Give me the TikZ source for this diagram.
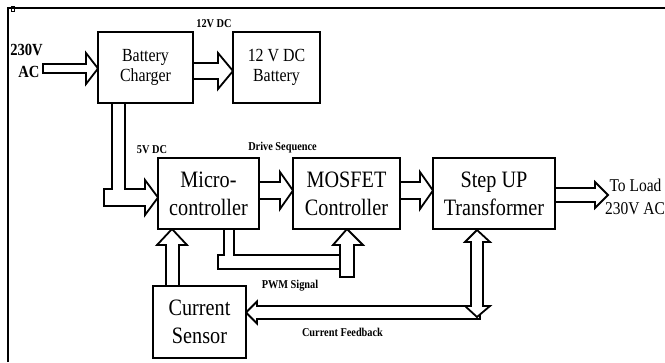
\documentclass[tikz,border=0pt]{standalone}
\usepackage{fontspec}
\setmainfont{Liberation Serif}
\newfontfamily\cond[FakeStretch=0.86]{Liberation Serif}
\pgfdeclarelayer{bg}
\pgfsetlayers{bg,main}
\begin{document}
\begin{tikzpicture}[x=1pt,y=-1pt,
  box/.style={draw, line width=2pt, fill=white, inner sep=0pt, align=center},
  big/.style={font=\cond\fontsize{23.5}{28}\selectfont},
  mid/.style={font=\cond\fontsize{18.5}{20}\selectfont},
  lbl/.style={font=\cond\bfseries\fontsize{12}{14}\selectfont, inner sep=0pt, anchor=base},
  side/.style={font=\cond\fontsize{18}{22}\selectfont, inner sep=0pt, anchor=base},
  sideb/.style={font=\cond\bfseries\fontsize{17}{22}\selectfont, inner sep=0pt, anchor=base},
  blk/.style={draw, line width=1.8pt, fill=white, line join=miter, miter limit=6}]

\useasboundingbox (0,0) rectangle (665,362);
\draw[line width=1.3pt] (8,362) -- (8,8) -- (665,8);
\draw[line width=0.7pt] (11,6) rectangle (14,11);

% blocks
\node[box, mid, minimum width=95pt, minimum height=71pt] (bc) at (145.5,67.5) {Battery\\Charger};
\node[box, mid, minimum width=87pt, minimum height=71pt] (bat) at (276.5,67.5) {12 V DC\\Battery};
\node[box, big, minimum width=101pt, minimum height=71pt] (mc) at (208.5,193.5) {Micro-\\controller};
\node[box, big, minimum width=107pt, minimum height=71pt] (mos) at (346.5,193.5) {MOSFET\\Controller};
\node[box, big, minimum width=122pt, minimum height=71pt] (su) at (494,193.5) {Step UP\\Transformer};
\node[box, big, minimum width=93pt, minimum height=72pt] (cs) at (199.5,322) {Current\\Sensor};

% labels
\node[sideb] (in1) at (26.5,55) {230V};
\node[sideb] (in2) at (29,77) {AC};
\node[lbl] (l12) at (214,27) {12V DC};
\node[lbl] (l5) at (152,153) {5V DC};
\node[lbl] (ldr) at (282.5,150) {Drive Sequence};
\node[lbl] (lpwm) at (290,288) {PWM Signal};
\node[lbl] (lfb) at (342.5,336) {Current Feedback};
\node[side] (out1) at (635.5,191) {To Load};
\node[side] (out2) at (635,214) {230V AC};

\begin{pgfonlayer}{bg}
% AC input
\filldraw[blk] (43,64) -- (86,64) -- (86,53) -- (98,68.5) -- (86,84) -- (86,73) -- (43,73) -- cycle;
% charger -> battery
\filldraw[blk] (193,63) -- (218,63) -- (218,53) -- (233,71) -- (218,89) -- (218,79) -- (193,79);
% charger -> micro (5V DC)
\filldraw[blk] (112,103) -- (112,189) -- (104,189) -- (104,206) -- (145,206) -- (145,215)
  -- (158,197.5) -- (145,180) -- (145,189) -- (125,189) -- (125,103);
% micro -> mosfet
\filldraw[blk] (259,182) -- (280,182) -- (280,172) -- (293,190.5) -- (280,209) -- (280,199) -- (259,199);
% mosfet -> step up
\filldraw[blk] (400,182) -- (420,182) -- (420,172) -- (433,190.5) -- (420,209) -- (420,199) -- (400,199);
% step up -> load
\filldraw[blk] (555,188) -- (595,188) -- (595,182) -- (608,195) -- (595,208) -- (595,202) -- (555,202);
% PWM pipe
\filldraw[blk] (224,229) -- (224,255) -- (218,255) -- (218,269) -- (340,269) -- (340,255) -- (234,255) -- (234,229);
\filldraw[blk] (340,277) -- (340,245) -- (333,245) -- (347,229) -- (363,245) -- (354,245) -- (354,277) -- cycle;
% sensor -> micro
\filldraw[blk] (166,286) -- (166,245) -- (157,245) -- (172,229) -- (187,245) -- (179,245) -- (179,286);
% feedback
\filldraw[blk] (480,306) -- (257,306) -- (257,301.5) -- (246,312.5) -- (257,323.5) -- (257,319) -- (480,319) -- cycle;
\filldraw[blk] (471,242) -- (465,242) -- (477,230) -- (490,242) -- (483,242) -- (483,306)
  -- (490,306) -- (477,317) -- (465,306) -- (471,306) -- cycle;
\end{pgfonlayer}
\end{tikzpicture}
\end{document}
